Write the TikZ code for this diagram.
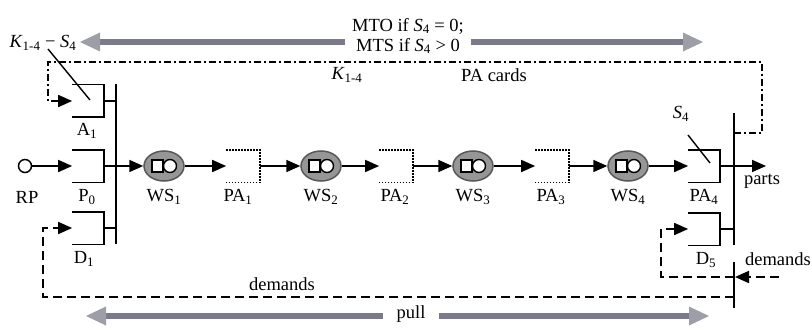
\documentclass[tikz,border=0pt]{standalone}
\usepackage{fontspec}
\setmainfont{Liberation Serif}
\usetikzlibrary{arrows.meta,shapes.geometric}
\definecolor{bargray}{RGB}{122,122,138}
\definecolor{headgray}{RGB}{158,158,168}
\definecolor{wsfill}{RGB}{150,150,150}
\definecolor{wsedge}{RGB}{88,88,88}
\begin{document}
\begin{tikzpicture}[x=1pt,y=-1pt,
  font=\fontsize{18.5}{20}\selectfont,
  line width=1.7pt,
  tri/.style={-{Triangle[length=14pt,width=12pt]}},
  bracketbox/.style={rectangle,minimum width=30pt,minimum height=31pt,inner sep=0pt,draw=none},
  pabox/.style={rectangle,minimum width=32pt,minimum height=31pt,inner sep=0pt,draw=none},
  wsnode/.style={ellipse,fill=wsfill,draw=wsedge,line width=1.5pt,minimum width=40pt,minimum height=30pt,inner sep=0pt},
  dotline/.style={dash pattern=on 1.6pt off 1.4pt},
  dashdot/.style={dash pattern=on 7pt off 3pt on 2pt off 3pt},
  dashline/.style={dash pattern=on 9pt off 5pt},
  bigarrow/.style={line width=6pt,draw=bargray,-{Triangle[length=20pt,width=19pt,line width=0pt,fill=headgray,color=headgray]}},
  lbl/.style={inner sep=0pt}
]
\useasboundingbox (0,0) rectangle (812,329);

% ---- top mode arrows and texts
\node[lbl] (mto) at (408,26) {MTO if \textit{S}\textsubscript{4} = 0;};
\node[lbl] (mts) at (408,46) {MTS if \textit{S}\textsubscript{4} > 0};
\node[lbl] (k14s4) at (43,43) {\textit{K}\textsubscript{1-4} − \textit{S}\textsubscript{4}};
\coordinate (topL) at (345,42);
\coordinate (topLtip) at (80,42);
\coordinate (topR) at (471,42);
\coordinate (topRtip) at (703,42);
\draw[bigarrow] (topL) -- (topLtip);
\draw[bigarrow] (topR) -- (topRtip);

\node[lbl] (k14) at (347,75) {\textit{K}\textsubscript{1-4}};
\node[lbl] (pacards) at (494,75) {PA cards};

% ---- left assembly
\node[bracketbox] (A1) at (88,101) {};
\node[bracketbox] (P0) at (88,166) {};
\node[bracketbox] (D1) at (88,228) {};
\foreach \b in {A1,P0,D1}
  \draw (\b.north west) -- (\b.north east) -- (\b.south east) -- (\b.south west);
\coordinate (busLtop) at (116,84);
\coordinate (busLbot) at (116,244);
\draw (busLtop) -- (busLbot);
\draw (A1.east) -- (A1.east -| busLtop);
\draw (D1.east) -- (D1.east -| busLtop);
\node[lbl] (A1l) at (87,131) {A\textsubscript{1}};
\node[lbl] (P0l) at (87,197) {P\textsubscript{0}};
\node[lbl] (D1l) at (84,259) {D\textsubscript{1}};

\node[circle,draw,minimum size=13pt,inner sep=0pt,line width=1.5pt] (RP) at (25,166) {};
\node[lbl] (RPl) at (27,197) {RP};
\draw[tri] (RP.east) -- (P0.west);

\coordinate (k14tail) at (48,49);
\coordinate (k14head) at (90,100);
\draw[line width=1.4pt] (k14tail) -- (k14head);

% ---- stations
\node[wsnode] (WS1) at (164,166) {};
\node[wsnode] (WS2) at (321,166) {};
\node[wsnode] (WS3) at (473,166) {};
\node[wsnode] (WS4) at (628,166) {};
\foreach \w in {WS1,WS2,WS3,WS4}{
  \draw[line width=1.4pt,fill=white,shift={(\w.center)}] (-12,-6) rectangle (-1,6);
  \draw[line width=1.4pt,fill=white,shift={(\w.center)}] (6,0) circle (6.5pt);
}
\node[pabox] (PA1) at (243,166) {};
\node[pabox] (PA2) at (396,166) {};
\node[pabox] (PA3) at (552,166) {};
\foreach \p in {PA1,PA2,PA3}
  \draw[dotline] (\p.north west) -- (\p.north east) -- (\p.south east) -- (\p.south west);

\node[lbl] (WS1l) at (164,197) {WS\textsubscript{1}};
\node[lbl] (PA1l) at (238,197) {PA\textsubscript{1}};
\node[lbl] (WS2l) at (321,197) {WS\textsubscript{2}};
\node[lbl] (PA2l) at (395,197) {PA\textsubscript{2}};
\node[lbl] (WS3l) at (473,197) {WS\textsubscript{3}};
\node[lbl] (PA3l) at (551,197) {PA\textsubscript{3}};
\node[lbl] (WS4l) at (628,197) {WS\textsubscript{4}};

% ---- right assembly
\node[bracketbox] (PA4) at (704,166) {};
\node[bracketbox] (D5) at (704,229) {};
\foreach \b in {PA4,D5}
  \draw (\b.north west) -- (\b.north east) -- (\b.south east) -- (\b.south west);
\coordinate (busRtop) at (734,113);
\coordinate (busRbot) at (734,245);
\draw (busRtop) -- (busRbot);
\draw (D5.east) -- (D5.east -| busRtop);
\coordinate (parts) at (766,166);
\draw[tri] (PA4.east) -- (parts);
\node[lbl] (partsl) at (762,181) {parts};
\node[lbl] (PA4l) at (704,197) {PA\textsubscript{4}};
\node[lbl] (D5l) at (706,260) {D\textsubscript{5}};
\node[lbl] (S4l) at (681,114) {\textit{S}\textsubscript{4}};
\coordinate (s4tail) at (688,135);
\coordinate (s4head) at (710,163);
\draw[line width=1.4pt] (s4tail) -- (s4head);

% ---- stage chain
\draw[tri] (P0.east) -- (WS1.west);
\draw[tri] (WS1.east) -- (PA1.west);
\draw[tri] (PA1.east) -- (WS2.west);
\draw[tri] (WS2.east) -- (PA2.west);
\draw[tri] (PA2.east) -- (WS3.west);
\draw[tri] (WS3.east) -- (PA3.west);
\draw[tri] (PA3.east) -- (WS4.west);
\draw[tri] (WS4.east) -- (PA4.west);

% ---- PA card loop
\coordinate (cardtap) at (734,133);
\draw[dashdot,tri] (cardtap) -- (762,133) -- (762,62) -- (48,62) -- (48,101) -- (A1.west);

% ---- demand loops
\coordinate (bus2top) at (734,262);
\coordinate (bus2bot) at (734,308);
\draw (bus2top) -- (bus2bot);
\coordinate (demin) at (779,277);
\coordinate (demtip) at (735,277);
\draw[dashline,tri] (demin) -- (demtip);
\node[lbl] (demR) at (778,259) {demands};
\coordinate (d5tap) at (734,277);
\draw[dashline,tri] (d5tap) -- (661,277) -- (661,229) -- (D5.west);
\coordinate (d1tap) at (734,297);
\draw[dashline,tri] (d1tap) -- (43,297) -- (43,228) -- (D1.west);
\node[lbl] (demL) at (282,284) {demands};

% ---- pull arrow
\node[lbl] (pull) at (411,314) {pull};
\coordinate (botL) at (383,316);
\coordinate (botLtip) at (86,316);
\coordinate (botR) at (439,316);
\coordinate (botRtip) at (709,316);
\draw[bigarrow] (botL) -- (botLtip);
\draw[bigarrow] (botR) -- (botRtip);
\end{tikzpicture}
\end{document}
